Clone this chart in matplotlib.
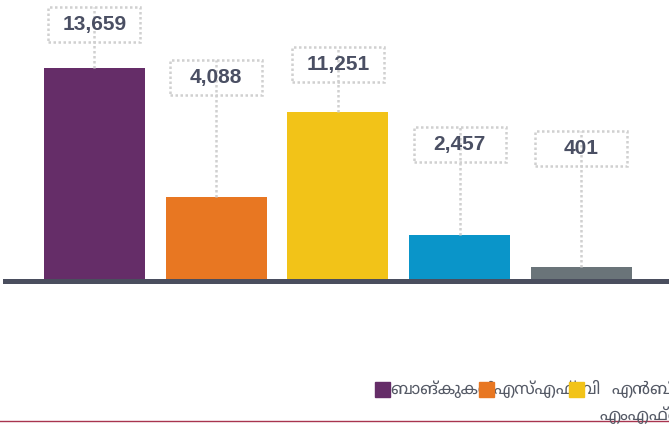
import matplotlib
matplotlib.use("Agg")
import matplotlib.pyplot as plt
from matplotlib.patches import Rectangle
from matplotlib.lines import Line2D
from matplotlib.transforms import IdentityTransform

# ------------------ Data ------------------

categories = ["ബാങ്കുകൾ", "എസ്എഫ്ബി", "എൻബിഎഫ്സി-എംഎഫ്ഐ", "എൻബിഎഫ്സി", "മറ്റുള്ളവ"]
labels = [13659, 4088, 11251, 2457, 401]
# bar heights as drawn in the picture (same units as the labels)
bar_heights = [13659, 5367, 10831, 2925, 868]
colors = ["#652d68", "#e87722", "#f2c318", "#0a95c9", "#6a7479"]

# ------------------ Layout ------------------

W, H = 669, 428
TEXT = "#4a4f63"
DOTS = "#d0d0d0"
label_offsets = [43.5, 120, 47.5, 90.5, 118]   # px, label centre above bar top
box_w, box_h = 92, 35

fig = plt.figure(figsize=(W / 100, H / 100), dpi=100)
ax = fig.add_axes([5 / W, 1 - 280.5 / H, 664 / W, 280.5 / H])
ax.set_xlim(-0.735, 4.719)
ax.set_ylim(0, 18030)
ax.axis("off")

x = range(len(bar_heights))
ax.bar(x, bar_heights, width=0.83, color=colors, zorder=2)
ax.axhline(0, color="#4a4e5e", lw=3.6, zorder=3, clip_on=False)

fig.canvas.draw()
for i, (h, val) in enumerate(zip(bar_heights, labels)):
    px, py = ax.transData.transform((i, h))
    cy = py + label_offsets[i]
    # dotted leader from bar top up through the box
    fig.add_artist(Line2D([px, px], [py, cy + box_h / 2], transform=IdentityTransform(),
                          color=DOTS, lw=1.8, ls=(0, (1, 1)), zorder=1))
    fig.add_artist(Rectangle((px - box_w / 2, cy - box_h / 2), box_w, box_h,
                             transform=IdentityTransform(), fill=False,
                             ec=DOTS, lw=1.8, ls=(0, (1, 1)), zorder=1))
    fig.text(px / W, cy / H, f"{val:,}", ha="center", va="center",
             fontsize=15, fontweight="bold", color=TEXT,
             family="Liberation Sans", zorder=5)

# ------------------ Legend (runs off the right edge) ------------------

leg_font = ["Noto Sans Malayalam", "DejaVu Sans"]
LEG = "#555a66"
sq = 15
marker_x = [375, 479, 569]
for i in range(3):
    fig.add_artist(Rectangle((marker_x[i] / W, 1 - 397 / H), sq / W, sq / H,
                             transform=fig.transFigure, color=colors[i], zorder=4))
fig.text(390 / W, 1 - 389 / H, categories[0], ha="left", va="center",
         fontsize=12, color=LEG, family=leg_font)
fig.text(494 / W, 1 - 389 / H, categories[1], ha="left", va="center",
         fontsize=12, color=LEG, family=leg_font, zorder=3)
first, second = categories[2].split("-")
fig.text(612 / W, 1 - 389 / H, first, ha="left", va="center",
         fontsize=12, color=LEG, family=leg_font)
fig.text(600 / W, 1 - 415 / H, second, ha="left", va="center",
         fontsize=12, color=LEG, family=leg_font)

# thin rule at the bottom
fig.add_artist(Line2D([0, 1], [1 - 421 / H, 1 - 421 / H], transform=fig.transFigure,
                      color="#a8344f", lw=1))

fig.savefig("out.png", dpi=100)
